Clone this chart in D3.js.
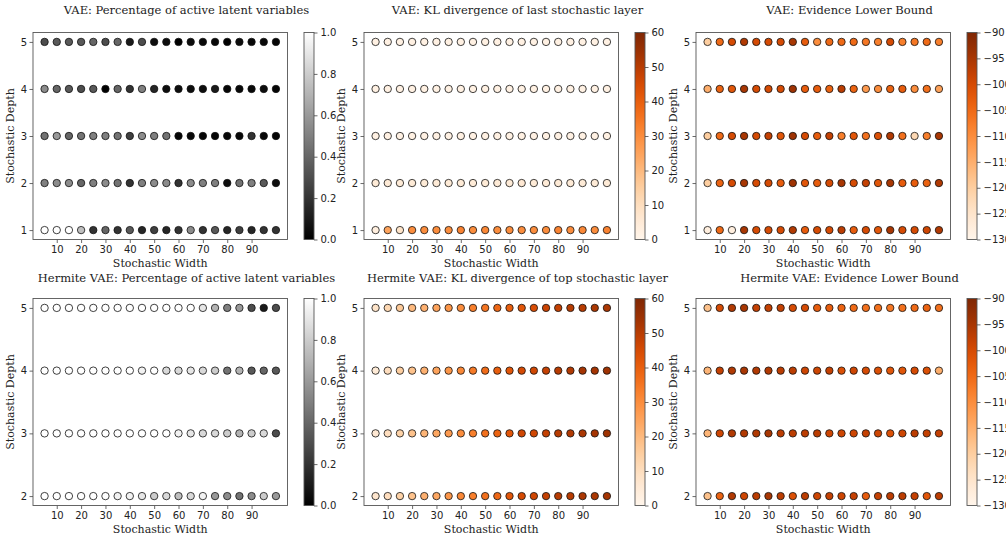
<!DOCTYPE html>
<html>
<head>
<meta charset="utf-8">
<script src="https://cdn.jsdelivr.net/npm/d3@7"></script>
<style>
  body { margin: 0; background: #fff; }
  svg text { fill: #222; }
</style>
</head>
<body>
<div id="chart"></div>
<script>
// stochastic widths (x) and depths (y)
var widths = [5, 10, 15, 20, 25, 30, 35, 40, 45, 50, 55, 60, 65, 70, 75, 80, 85, 90, 95, 100];
var depthsVae = [1, 2, 3, 4, 5];
var depthsHermite = [2, 3, 4, 5];
var xTicks = [10, 20, 30, 40, 50, 60, 70, 80, 90];

// colorbar ticks
var activeTicks = [0, 0.2, 0.4, 0.6, 0.8, 1.0];
var klTicks = [0, 10, 20, 30, 40, 50, 60];
var elboTicks = [-130, -125, -120, -115, -110, -105, -100, -95, -90];

// VAE: fraction of active latent units, one row per depth (1..5)
var vaeActive = [
  [1.0, 1.0, 1.0, 0.75, 0.2, 0.4, 0.2, 0.35, 0.15, 0.25, 0.15, 0.2, 0.55, 0.2, 0.35, 0.15, 0.25, 0.15, 0.2, 0.2],
  [0.5, 0.55, 0.55, 0.4, 0.5, 0.55, 0.45, 0.2, 0.5, 0.55, 0.55, 0.2, 0.55, 0.5, 0.5, 0.05, 0.45, 0.5, 0.35, 0.05],
  [0.45, 0.6, 0.4, 0.45, 0.5, 0.5, 0.45, 0.25, 0.55, 0.5, 0.45, 0.02, 0.03, 0.02, 0.02, 0.03, 0.03, 0.2, 0.03, 0.02],
  [0.55, 0.4, 0.35, 0.3, 0.35, 0.0, 0.4, 0.2, 0.5, 0.15, 0.05, 0.05, 0.05, 0.05, 0.1, 0.02, 0.03, 0.03, 0.05, 0.02],
  [0.3, 0.35, 0.35, 0.35, 0.4, 0.3, 0.4, 0.1, 0.3, 0.05, 0.05, 0.0, 0.05, 0.03, 0.03, 0.0, 0.05, 0.03, 0.03, 0.02]
];

// VAE: KL of last stochastic layer
var vaeKl = [
  [3, 25, 8, 30, 30, 30, 30, 32, 30, 31, 30, 30, 30, 30, 30, 32, 30, 31, 30, 32],
  [5, 5, 5, 5, 5, 5, 5, 5, 5, 5, 5, 5, 6, 5, 5, 5, 5, 5, 5, 5],
  [2, 2, 2, 2, 2, 2, 2, 2, 2, 2, 2, 2, 2, 2, 2, 2, 2, 2, 2, 2],
  [2, 2, 2, 2, 2, 2, 2, 2, 2, 2, 2, 2, 2, 2, 2, 2, 2, 2, 2, 2],
  [2, 2, 2, 2, 2, 2, 2, 2, 2, 2, 2, 2, 2, 2, 2, 2, 2, 2, 2, 2]
];

// VAE: evidence lower bound
var vaeElbo = [
  [-128, -105, -128, -95, -100, -100, -100, -96, -103, -100, -100, -97, -103, -100, -102, -95, -100, -100, -99, -96],
  [-120, -104, -100, -95, -100, -100, -103, -94, -102, -103, -100, -95, -100, -98, -102, -95, -103, -103, -104, -96],
  [-120, -105, -100, -95, -100, -98, -102, -94, -100, -103, -98, -108, -102, -106, -101, -96, -106, -122, -108, -95],
  [-115, -104, -102, -95, -100, -100, -100, -94, -103, -103, -104, -97, -104, -112, -110, -104, -103, -110, -106, -113],
  [-120, -105, -100, -96, -100, -100, -100, -95, -103, -110, -105, -105, -105, -107, -108, -100, -108, -107, -105, -108]
];

// Hermite VAE: fraction of active latent units, one row per depth (2..5)
var hermiteActive = [
  [1.0, 1.0, 1.0, 1.0, 1.0, 1.0, 0.95, 0.95, 0.9, 0.8, 0.85, 0.75, 0.85, 0.95, 0.6, 0.55, 0.45, 0.55, 0.8, 0.6],
  [1.0, 1.0, 1.0, 1.0, 1.0, 1.0, 1.0, 1.0, 1.0, 1.0, 1.0, 0.95, 0.9, 0.85, 0.85, 0.8, 0.7, 0.8, 0.85, 0.3],
  [1.0, 1.0, 1.0, 1.0, 1.0, 1.0, 1.0, 1.0, 0.95, 1.0, 0.85, 0.85, 0.9, 0.85, 0.8, 0.45, 0.7, 0.35, 0.4, 0.35],
  [1.0, 1.0, 1.0, 1.0, 1.0, 1.0, 1.0, 1.0, 1.0, 1.0, 1.0, 1.0, 1.0, 0.9, 0.7, 0.5, 0.6, 0.3, 0.1, 0.3]
];

// Hermite VAE: KL of top stochastic layer
var hermiteKl = [
  [7, 10, 14, 18, 22, 24, 28, 31, 33, 36, 38, 42, 45, 46, 48, 50, 50, 52, 52, 53],
  [6, 10, 14, 18, 21, 24, 27, 30, 33, 36, 39, 42, 46, 46, 48, 50, 51, 52, 53, 54],
  [5, 10, 15, 18, 22, 25, 28, 31, 34, 37, 40, 42, 45, 46, 48, 50, 51, 53, 53, 54],
  [8, 12, 16, 20, 22, 25, 28, 30, 33, 35, 38, 40, 42, 44, 47, 48, 50, 50, 52, 52]
];

// Hermite VAE: evidence lower bound
var hermiteElbo = [
  [-118, -104, -96, -99, -97, -95, -97, -101, -97, -99, -98, -99, -98, -103, -98, -97, -97, -98, -102, -97],
  [-116, -99, -96, -96, -96, -95, -97, -97, -97, -97, -99, -99, -99, -98, -99, -101, -99, -97, -98, -98],
  [-116, -98, -96, -95, -96, -96, -97, -97, -99, -99, -98, -101, -99, -100, -101, -102, -102, -100, -101, -115],
  [-118, -100, -96, -95, -98, -98, -98, -100, -100, -103, -103, -104, -105, -106, -106, -107, -106, -105, -104, -106]
];

var grayMap = d3.interpolateRgb("#000000", "#ffffff");
var orangeMap = d3.interpolateOranges;

var panels = [
  { title: "VAE: Percentage of active latent variables", values: vaeActive, depths: depthsVae, cmap: grayMap, domain: [0, 1], ticks: activeTicks, fmt: d3.format(".1f") },
  { title: "VAE: KL divergence of last stochastic layer", values: vaeKl, depths: depthsVae, cmap: orangeMap, domain: [0, 60], ticks: klTicks, fmt: d3.format("d") },
  { title: "VAE: Evidence Lower Bound", values: vaeElbo, depths: depthsVae, cmap: orangeMap, domain: [-130, -90], ticks: elboTicks, fmt: d3.format("d") },
  { title: "Hermite VAE: Percentage of active latent variables", values: hermiteActive, depths: depthsHermite, cmap: grayMap, domain: [0, 1], ticks: activeTicks, fmt: d3.format(".1f") },
  { title: "Hermite VAE: KL divergence of top stochastic layer", values: hermiteKl, depths: depthsHermite, cmap: orangeMap, domain: [0, 60], ticks: klTicks, fmt: d3.format("d") },
  { title: "Hermite VAE: Evidence Lower Bound", values: hermiteElbo, depths: depthsHermite, cmap: orangeMap, domain: [-130, -90], ticks: elboTicks, fmt: d3.format("d") }
];

var width = 1006, height = 535;
var colLeft = [33, 364, 696],
    rowTop = [32.5, 298.5],
    axW = 254.5, axH = 207,
    cbarOffset = 271, cbarW = 10;

var serif = "'DejaVu Serif', serif",
    sans = "'DejaVu Sans', sans-serif";

var svg = d3.select("#chart").append("svg")
    .attr("width", width)
    .attr("height", height);

var defs = svg.append("defs");

panels.forEach(function(p, i) {
    var col = i % 3, row = Math.floor(i / 3);
    var left = colLeft[col], top = rowTop[row];

    var x = d3.scaleLinear().domain([0.25, 104.75]).range([0, axW]);
    var pad = (d3.max(p.depths) - d3.min(p.depths)) * 0.05;
    var y = d3.scaleLinear()
        .domain([d3.min(p.depths) - pad, d3.max(p.depths) + pad])
        .range([axH, 0]);
    var color = d3.scaleSequential(p.cmap).domain(p.domain);

    var g = svg.append("g").attr("transform", "translate(" + left + "," + top + ")");

    // title
    g.append("text")
        .attr("x", 153.5)
        .attr("y", row === 0 ? -18.5 : -17)
        .attr("text-anchor", "middle")
        .style("font-family", serif)
        .style("font-size", "11.5px")
        .text(p.title);

    // axes
    var xAxis = g.append("g")
        .attr("transform", "translate(0," + axH + ")")
        .call(d3.axisBottom(x).tickValues(xTicks).tickSize(3.5).tickPadding(2.5));
    var yAxis = g.append("g")
        .call(d3.axisLeft(y).tickValues(p.depths).tickFormat(d3.format("d")).tickSize(3.5).tickPadding(2.5));
    [xAxis, yAxis].forEach(function(a) {
        a.select(".domain").remove();
        a.selectAll(".tick line").attr("stroke", "#444").attr("stroke-width", 0.8);
        a.selectAll(".tick text").style("font-family", sans).style("font-size", "10px").attr("fill", "#222");
    });

    // frame
    g.append("rect")
        .attr("width", axW).attr("height", axH)
        .attr("fill", "none")
        .attr("stroke", "#555")
        .attr("stroke-width", 0.9);

    // labels
    g.append("text")
        .attr("x", axW / 2)
        .attr("y", axH + 27.5)
        .attr("text-anchor", "middle")
        .style("font-family", serif)
        .style("font-size", "11px")
        .text("Stochastic Width");
    g.append("text")
        .attr("transform", "translate(-19," + (axH / 2) + ") rotate(-90)")
        .attr("text-anchor", "middle")
        .style("font-family", serif)
        .style("font-size", "11px")
        .text("Stochastic Depth");

    // points
    var pts = [];
    p.depths.forEach(function(d, r) {
        widths.forEach(function(w, c) {
            pts.push({ w: w, d: d, v: p.values[r][c] });
        });
    });
    g.selectAll("circle.pt")
        .data(pts)
        .enter()
        .append("circle")
        .attr("class", "pt")
        .attr("cx", function(d) { return x(d.w); })
        .attr("cy", function(d) { return y(d.d); })
        .attr("r", 3.7)
        .attr("fill", function(d) { return color(d.v); })
        .attr("stroke", "#111")
        .attr("stroke-width", 0.8);

    // colorbar
    var gradId = "grad" + i;
    var grad = defs.append("linearGradient")
        .attr("id", gradId)
        .attr("x1", 0).attr("y1", 1).attr("x2", 0).attr("y2", 0);
    d3.range(0, 1.0001, 0.05).forEach(function(t) {
        grad.append("stop")
            .attr("offset", t)
            .attr("stop-color", p.cmap(t));
    });
    var cb = g.append("g").attr("transform", "translate(" + cbarOffset + ",0)");
    cb.append("rect")
        .attr("width", cbarW).attr("height", axH)
        .attr("fill", "url(#" + gradId + ")")
        .attr("stroke", "#555")
        .attr("stroke-width", 0.9);
    var cy = d3.scaleLinear().domain(p.domain).range([axH, 0]);
    var cAxis = cb.append("g")
        .attr("transform", "translate(" + cbarW + ",0)")
        .call(d3.axisRight(cy).tickValues(p.ticks).tickFormat(p.fmt).tickSize(3.5).tickPadding(3));
    cAxis.select(".domain").remove();
    cAxis.selectAll(".tick line").attr("stroke", "#444").attr("stroke-width", 0.8);
    cAxis.selectAll(".tick text").style("font-family", sans).style("font-size", "10px").attr("fill", "#222");
});
</script>
</body>
</html>
